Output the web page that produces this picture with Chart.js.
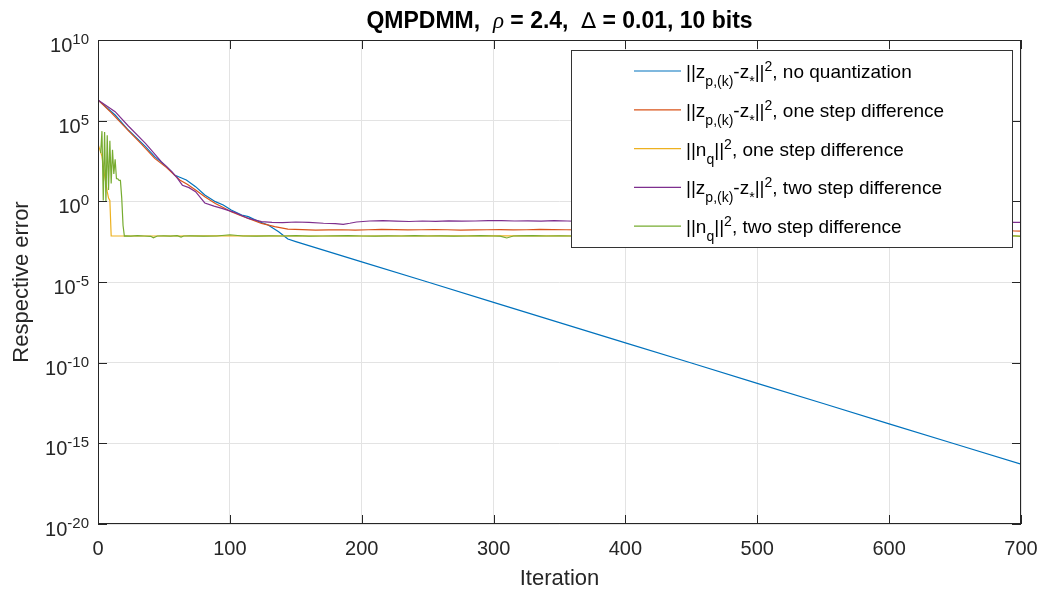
<!DOCTYPE html>
<html>
<head>
<meta charset="utf-8">
<script src="https://cdn.jsdelivr.net/npm/chart.js@4/dist/chart.umd.min.js"></script>
<style>
  html, body { margin: 0; padding: 0; background: #fff; }
  #wrap { width: 1043px; height: 593px; }
</style>
</head>
<body>
<div id="wrap"><canvas id="chart" width="1043" height="593"></canvas></div>
<script>
const blueIter = [0, 13, 23, 36, 43, 52, 58, 62, 67, 74, 81, 89, 95, 101, 109, 114, 122, 129, 137, 144, 150, 200, 250, 300, 350, 400, 450, 500, 550, 600, 650, 700];
const blueExp = [6.28, 5.35, 4.42, 3.39, 2.77, 2.15, 1.63, 1.49, 1.32, 0.91, 0.39, -0.02, -0.23, -0.54, -0.85, -0.95, -1.26, -1.47, -1.88, -2.34, -2.5, -3.75, -5.0, -6.26, -7.52, -8.77, -10.02, -11.28, -12.53, -13.79, -15.04, -16.29];

const redIter = [0, 10, 23, 33, 43, 52, 62, 68, 74, 81, 89, 95, 101, 108, 114, 124, 134, 144, 155, 165, 175, 185, 195, 205, 215, 225, 235, 245, 255, 265, 275, 285, 295, 305, 315, 325, 335, 345, 355, 365, 400, 500, 600, 690, 695, 700];
const redExp = [6.28, 5.5, 4.38, 3.55, 2.66, 2.09, 1.32, 1.05, 0.70, 0.29, -0.13, -0.38, -0.64, -0.88, -1.06, -1.37, -1.57, -1.72, -1.75, -1.78, -1.77, -1.76, -1.78, -1.76, -1.74, -1.75, -1.77, -1.76, -1.75, -1.76, -1.78, -1.77, -1.76, -1.75, -1.77, -1.76, -1.74, -1.75, -1.76, -1.77, -1.78, -1.79, -1.80, -1.80, -1.84, -1.85];

const yellowIter = [0, 1, 2, 3, 4, 5, 6, 7, 8, 9, 10, 50, 100, 150, 200, 300, 400, 500, 600, 700];
const yellowExp = [3.55, 3.3, 3.05, 2.8, 2.2, 1.6, 1.1, 0.6, 0.2, 0.05, -2.15, -2.15, -2.14, -2.15, -2.15, -2.14, -2.15, -2.15, -2.14, -2.15];

const purpleIter = [0, 13, 23, 36, 48, 56, 60, 64, 69, 74, 78, 81, 88, 94, 104, 114, 124, 132, 140, 150, 160, 171, 180, 186, 191, 196, 206, 216, 226, 236, 246, 256, 266, 276, 286, 296, 306, 316, 326, 336, 346, 356, 366, 400, 500, 600, 690, 695, 700];
const purpleExp = [6.28, 5.56, 4.67, 3.59, 2.46, 1.84, 1.45, 1.0, 0.85, 0.60, 0.2, -0.1, -0.3, -0.44, -0.70, -1.06, -1.26, -1.30, -1.32, -1.28, -1.31, -1.36, -1.38, -1.43, -1.36, -1.28, -1.22, -1.20, -1.23, -1.25, -1.22, -1.24, -1.21, -1.23, -1.22, -1.20, -1.19, -1.22, -1.21, -1.23, -1.20, -1.22, -1.24, -1.25, -1.27, -1.28, -1.29, -1.31, -1.30];

const greenIter = [2, 3, 4, 5, 6, 7, 8, 9, 10, 11, 12, 13, 14, 15, 16, 17, 18, 19, 20, 21, 25, 30, 35, 40, 42, 45, 50, 55, 60, 63, 65, 70, 80, 90, 100, 110, 120, 130, 140, 150, 160, 170, 180, 190, 200, 210, 220, 230, 240, 250, 260, 270, 280, 290, 300, 305, 310, 315, 320, 330, 340, 350, 360, 400, 500, 600, 690, 695, 700];
const greenExp = [3.0, 4.35, 0.05, 4.3, -0.02, 4.1, 0.7, 3.75, 1.1, 3.2, 1.7, 2.6, 1.4, 1.4, 1.3, 1.3, 0.2, -1.5, -2.15, -2.14, -2.16, -2.13, -2.15, -2.17, -2.26, -2.15, -2.14, -2.16, -2.13, -2.22, -2.15, -2.14, -2.16, -2.15, -2.07, -2.15, -2.16, -2.14, -2.15, -2.13, -2.16, -2.15, -2.14, -2.12, -2.15, -2.16, -2.14, -2.15, -2.13, -2.15, -2.14, -2.16, -2.15, -2.13, -2.15, -2.16, -2.27, -2.15, -2.14, -2.13, -2.15, -2.14, -2.15, -2.15, -2.14, -2.15, -2.15, -2.14, -2.17];

const xTicks = [0, 100, 200, 300, 400, 500, 600, 700];
const yTickExps = [10, 5, 0, -5, -10, -15, -20];

const colors = ["#0072BD", "#D95319", "#EDB120", "#7E2F8E", "#77AC30"];
const normZ = [["||z"], ["p,(k)", "sub"], ["-z"], ["*", "sub"], ["||"], ["2", "sup"]];
const normN = [["||n"], ["q", "sub"], ["||"], ["2", "sup"]];
const legendLabels = [
  [...normZ, [", no quantization"]],
  [...normZ, [", one step difference"]],
  [...normN, [", one step difference"]],
  [...normZ, [", two step difference"]],
  [...normN, [", two step difference"]],
];

const FONT = '"Liberation Sans", Arial, sans-serif';
const TXT = "#262626";

function toPoints(iters, exps) {
  return iters.map((x, i) => ({ x: x, y: Math.pow(10, exps[i]) }));
}

// draw text with sub/superscripts, returns end x
function drawRich(ctx, parts, x, base, size) {
  const small = Math.round(size * 0.72);
  parts.forEach(([t, kind]) => {
    let dy = 0, s = size;
    if (kind === "sub") { s = small; dy = 8; }
    if (kind === "sup") { s = small; dy = -7; }
    ctx.font = s + "px " + FONT;
    ctx.fillText(t, x, base + dy);
    x += ctx.measureText(t).width;
  });
  return x;
}

const matlabAxes = {
  id: "matlabAxes",
  afterDraw(chart) {
    const ctx = chart.ctx;
    const { left, right, top, bottom } = chart.chartArea;
    const xs = chart.scales.x, ys = chart.scales.y;
    ctx.save();

    // box and inner tick marks
    ctx.strokeStyle = TXT;
    ctx.lineWidth = 1;
    ctx.strokeRect(left + 0.5, top + 0.5, right - left - 1, bottom - top - 1);
    ctx.beginPath();
    yTickExps.forEach(e => {
      const py = Math.round(ys.getPixelForValue(Math.pow(10, e))) + 0.5;
      ctx.moveTo(left, py); ctx.lineTo(left + 9, py);
      ctx.moveTo(right, py); ctx.lineTo(right - 9, py);
    });
    xTicks.forEach(v => {
      const px = Math.round(xs.getPixelForValue(v)) + 0.5;
      ctx.moveTo(px, bottom); ctx.lineTo(px, bottom - 9);
      ctx.moveTo(px, top); ctx.lineTo(px, top + 9);
    });
    ctx.stroke();

    // legend
    const lx = 571, ly = 50, lw = 441, lh = 197;
    ctx.fillStyle = "#fff";
    ctx.fillRect(lx, ly, lw, lh);
    ctx.strokeStyle = "#333";
    ctx.strokeRect(lx + 0.5, ly + 0.5, lw, lh);
    legendLabels.forEach((parts, i) => {
      const ry = 71 + i * 38.8;
      ctx.strokeStyle = colors[i];
      ctx.lineWidth = 1.2;
      ctx.beginPath();
      ctx.moveTo(634, ry); ctx.lineTo(681, ry);
      ctx.stroke();
      ctx.fillStyle = "#000";
      ctx.textAlign = "left";
      ctx.textBaseline = "alphabetic";
      drawRich(ctx, parts, 686, ry + 7, 19);
    });

    // y tick labels 10^n
    ctx.fillStyle = TXT;
    ctx.textBaseline = "alphabetic";
    ctx.textAlign = "left";
    yTickExps.forEach(e => {
      const py = ys.getPixelForValue(Math.pow(10, e));
      ctx.font = "20px " + FONT;
      const wb = ctx.measureText("10").width;
      ctx.font = "15px " + FONT;
      const ws = ctx.measureText(String(e)).width;
      const x0 = 89 - wb - ws;
      ctx.font = "20px " + FONT;
      ctx.fillText("10", x0, py + 12);
      ctx.font = "15px " + FONT;
      ctx.fillText(String(e), x0 + wb, py + 4);
    });

    // x tick labels
    ctx.textAlign = "center";
    ctx.font = "20px " + FONT;
    xTicks.forEach(v => {
      ctx.fillText(String(v), xs.getPixelForValue(v), 555);
    });

    // axis labels
    ctx.font = "22px " + FONT;
    ctx.fillText("Iteration", (left + right) / 2, 585);
    ctx.save();
    ctx.translate(28, (top + bottom) / 2);
    ctx.rotate(-Math.PI / 2);
    ctx.fillText("Respective error", 0, 0);
    ctx.restore();

    // title with mixed fonts
    const titleParts = [
      ["QMPDMM,  ", "bold 23px " + FONT],
      ["\u03C1", "italic 23px \"Liberation Serif\", serif"],
      [" = 2.4,  ", "bold 23px " + FONT],
      ["\u2206", "22px \"DejaVu Sans\", sans-serif"],
      [" = 0.01, 10 bits", "bold 23px " + FONT],
    ];
    let total = 0;
    titleParts.forEach(([t, f]) => { ctx.font = f; total += ctx.measureText(t).width; });
    let tx = (left + right) / 2 - total / 2;
    ctx.textAlign = "left";
    ctx.fillStyle = "#000";
    titleParts.forEach(([t, f]) => {
      ctx.font = f;
      ctx.fillText(t, tx, 28);
      tx += ctx.measureText(t).width;
    });

    ctx.restore();
  },
};

const seriesIters = [blueIter, redIter, yellowIter, purpleIter, greenIter];
const seriesExps = [blueExp, redExp, yellowExp, purpleExp, greenExp];

new Chart(document.getElementById("chart"), {
  type: "line",
  data: {
    datasets: seriesIters.map((it, i) => ({
      label: "series " + (i + 1),
      data: toPoints(it, seriesExps[i]),
      borderColor: colors[i],
      borderWidth: 1.2,
      pointRadius: 0,
      tension: 0,
      fill: false,
      order: 5 - i, // later series on top, like matlab
    })),
  },
  options: {
    responsive: false,
    animation: false,
    events: [],
    layout: { padding: { top: 40, right: 22, left: 0, bottom: 0 } },
    plugins: {
      legend: { display: false },
      title: { display: false },
      tooltip: { enabled: false },
    },
    scales: {
      x: {
        type: "linear",
        min: 0,
        max: 700,
        ticks: { stepSize: 100, display: false },
        grid: { color: "#e3e3e3", drawTicks: false },
        border: { display: false },
        afterFit(scale) { scale.height = 69; },
      },
      y: {
        type: "logarithmic",
        min: 1e-20,
        max: 1e10,
        ticks: { display: false },
        grid: { color: "#e3e3e3", drawTicks: false },
        border: { display: false },
        afterBuildTicks(scale) {
          scale.ticks = yTickExps.map(e => ({ value: Math.pow(10, e) }));
        },
        afterFit(scale) { scale.width = 98; },
      },
    },
  },
  plugins: [matlabAxes],
});
</script>
</body>
</html>
